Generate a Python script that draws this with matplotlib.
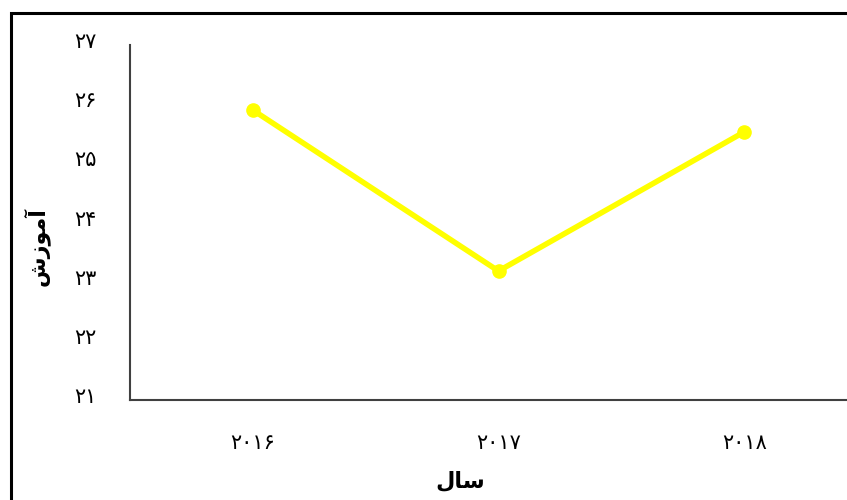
import matplotlib
matplotlib.use("Agg")
import matplotlib.pyplot as plt
from matplotlib.patches import Rectangle
from matplotlib.transforms import ScaledTranslation

years = ["\u06F2\u06F0\u06F1\u06F6", "\u06F2\u06F0\u06F1\u06F7", "\u06F2\u06F0\u06F1\u06F8"]
values = [25.90, 23.18, 25.53]
yticks = [21, 22, 23, 24, 25, 26, 27]
ytick_labels = ["\u06F2\u06F1", "\u06F2\u06F2", "\u06F2\u06F3", "\u06F2\u06F4",
                "\u06F2\u06F5", "\u06F2\u06F6", "\u06F2\u06F7"]
# shaped, visual-order strings
xlabel = "\uFEDD\uFE8E\uFEB3"                 # سال
ylabel = "\uFEB5\uFEAF\uFEEE\uFEE3\uFE81"     # آموزش

plt.rcParams['font.family'] = ['DejaVu Sans']

W, H = 847, 500
fig = plt.figure(figsize=(W / 100, H / 100), dpi=100)

# figure border (extends past right/bottom edges)
fig.patches.append(Rectangle((11 / W, -0.05), 1.2, 1 - 13 / H + 0.05,
                             transform=fig.transFigure, fill=False,
                             edgecolor="black", linewidth=2.2))

left, right = 130, 867
top, bottom = 45, 400
ax = fig.add_axes([left / W, 1 - bottom / H, (right - left) / W, (bottom - top) / H])

x = list(range(len(years)))
ax.plot(x, values, color="#FFFF00", linewidth=4.0, marker="o", markersize=9.5,
        solid_capstyle="round")

ax.set_xlim(-0.5, len(years) - 0.5)
ax.set_ylim(21, 27)
ax.set_yticks(yticks)
ax.set_yticklabels(ytick_labels, fontsize=15, color="black")
ax.set_xticks(x)
ax.set_xticklabels(years, fontsize=15, color="black")
ax.tick_params(length=0)
ax.tick_params(axis="y", pad=24)
ax.tick_params(axis="x", pad=24)
shift = ScaledTranslation(0, 5 / 100, fig.dpi_scale_trans)
for lbl in ax.get_yticklabels():
    lbl.set_transform(lbl.get_transform() + shift)

for s in ["top", "right"]:
    ax.spines[s].set_visible(False)
for s in ["left", "bottom"]:
    ax.spines[s].set_color("#404040")
    ax.spines[s].set_linewidth(1.5)

fig.text(460 / W, 1 - 481 / H, xlabel, fontsize=16, fontweight="bold",
         ha="center", va="center")
fig.text(36 / W, 1 - 246 / H, ylabel, fontsize=16, fontweight="bold",
         rotation=90, ha="center", va="center")

fig.savefig("out.png", dpi=100)
